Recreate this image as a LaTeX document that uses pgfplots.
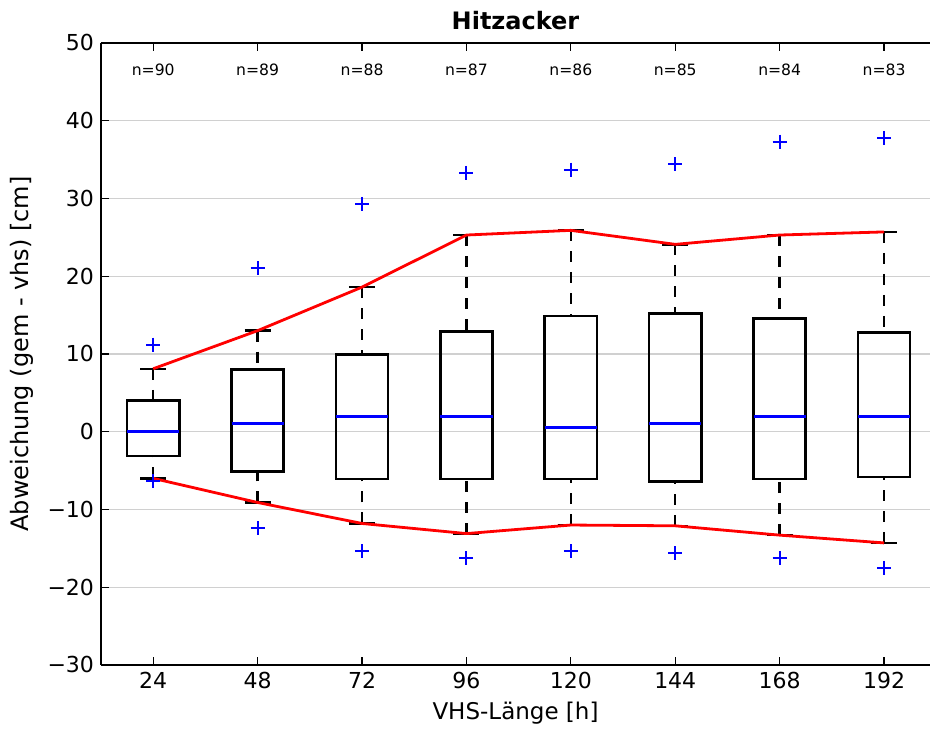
\documentclass[border=0pt]{standalone}
\usepackage{pgfplots}
\pgfplotsset{compat=1.18}
\usepgfplotslibrary{statistics}
\usetikzlibrary{calc}
\usepackage{fontspec}
\setmainfont{DejaVu Sans}
\definecolor{gridgray}{RGB}{208,208,208}
\begin{document}
\begin{tikzpicture}
\begin{axis}[
  name=ax,
  scale only axis,
  width=414.5pt, height=311pt,
  xmin=0.5, xmax=8.44,
  ymin=-30, ymax=50,
  axis x line*=box,
  axis y line*=left,
  axis line style={line width=0.9pt},
  xtick={1,2,3,4,5,6,7,8},
  xticklabels={24,48,72,96,120,144,168,192},
  ytick={-30,-20,-10,0,10,20,30,40,50},
  yticklabels={−30,−20,−10,0,10,20,30,40,50},
  tick label style={font=\fontsize{11}{13}\selectfont},
  major tick length=4pt,
  tick style={black, line width=0.6pt},
  ymajorgrids,
  grid style={gridgray, line width=0.7pt},
  xlabel={VHS-Länge [h]},
  ylabel={Abweichung (gem - vhs) [cm]},
  label style={font=\fontsize{11.5}{13}\selectfont},
  ylabel style={font=\fontsize{12}{14}\selectfont},
  title={\bfseries Hitzacker},
  title style={font=\fontsize{12}{14}\selectfont, yshift=-3pt},
  boxplot/draw direction=y,
  boxplot/box extend=0.5,
  boxplot/whisker extend=0.25,
  boxplot/every box/.style={draw=black, line width=1.3pt, fill=none},
  boxplot/draw/median/.code={
    \draw[blue, line width=1.5pt]
      (boxplot box cs:\pgfplotsboxplotvalue{median},0) --
      (boxplot box cs:\pgfplotsboxplotvalue{median},1);
  },
  boxplot/draw/lower whisker/.code={
    \draw[black, line width=1.2pt, dash pattern=on 5.5pt off 5pt]
      (boxplot box cs:\pgfplotsboxplotvalue{lower whisker},0.5) --
      (boxplot box cs:\pgfplotsboxplotvalue{lower quartile},0.5);
    \draw[black, line width=1.2pt]
      (boxplot whisker cs:\pgfplotsboxplotvalue{lower whisker},0) --
      (boxplot whisker cs:\pgfplotsboxplotvalue{lower whisker},1);
  },
  boxplot/draw/upper whisker/.code={
    \draw[black, line width=1.2pt, dash pattern=on 5.5pt off 5pt]
      (boxplot box cs:\pgfplotsboxplotvalue{upper whisker},0.5) --
      (boxplot box cs:\pgfplotsboxplotvalue{upper quartile},0.5);
    \draw[black, line width=1.2pt]
      (boxplot whisker cs:\pgfplotsboxplotvalue{upper whisker},0) --
      (boxplot whisker cs:\pgfplotsboxplotvalue{upper whisker},1);
  },
  outl/.style={mark=+, mark size=3.5pt, mark options={blue, line width=1pt, solid}},
  clip=false,
]
\addplot[black, outl, boxplot prepared={draw position=1, lower whisker=-6.0, lower quartile=-3.1, median=0.0, upper quartile=4.0, upper whisker=8.1}] coordinates {(0,11.2) (0,-6.4)};
\addplot[black, outl, boxplot prepared={draw position=2, lower whisker=-9.1, lower quartile=-5.1, median=1.0, upper quartile=8.0, upper whisker=13.0}] coordinates {(0,21.0) (0,-12.4)};
\addplot[black, outl, boxplot prepared={draw position=3, lower whisker=-11.8, lower quartile=-6.1, median=2.0, upper quartile=9.9, upper whisker=18.6}] coordinates {(0,29.3) (0,-15.4)};
\addplot[black, outl, boxplot prepared={draw position=4, lower whisker=-13.1, lower quartile=-6.1, median=2.0, upper quartile=12.9, upper whisker=25.3}] coordinates {(0,33.3) (0,-16.3)};
\addplot[black, outl, boxplot prepared={draw position=5, lower whisker=-12.0, lower quartile=-6.1, median=0.5, upper quartile=14.9, upper whisker=25.9}] coordinates {(0,33.7) (0,-15.4)};
\addplot[black, outl, boxplot prepared={draw position=6, lower whisker=-12.1, lower quartile=-6.4, median=1.0, upper quartile=15.2, upper whisker=24.1}] coordinates {(0,34.4) (0,-15.6)};
\addplot[black, outl, boxplot prepared={draw position=7, lower whisker=-13.3, lower quartile=-6.1, median=2.0, upper quartile=14.6, upper whisker=25.3}] coordinates {(0,37.3) (0,-16.3)};
\addplot[black, outl, boxplot prepared={draw position=8, lower whisker=-14.3, lower quartile=-5.8, median=2.0, upper quartile=12.8, upper whisker=25.7}] coordinates {(0,37.8) (0,-17.5)};
\addplot[red, line width=1.4pt, no marks] coordinates {(1,8.1) (2,13.0) (3,18.6) (4,25.3) (5,25.9) (6,24.1) (7,25.3) (8,25.7)};
\addplot[red, line width=1.4pt, no marks] coordinates {(1,-6.0) (2,-9.1) (3,-11.8) (4,-13.1) (5,-12.0) (6,-12.1) (7,-13.3) (8,-14.3)};
\foreach \i/\n in {1/90,2/89,3/88,4/87,5/86,6/85,7/84,8/83}{
  \edef\tmp{\noexpand\node[font=\noexpand\fontsize{7.8}{9}\noexpand\selectfont] at (axis cs:\i,46.6) {n=\n};}
  \tmp
}
\coordinate (bl) at (rel axis cs:0,0);
\coordinate (tr) at (rel axis cs:1,1);
\end{axis}
\pgfresetboundingbox
\path[use as bounding box] ($(bl)+(-50.5pt,-33pt)$) rectangle ($(tr)+(0,21.5pt)$);
\end{tikzpicture}
\end{document}
